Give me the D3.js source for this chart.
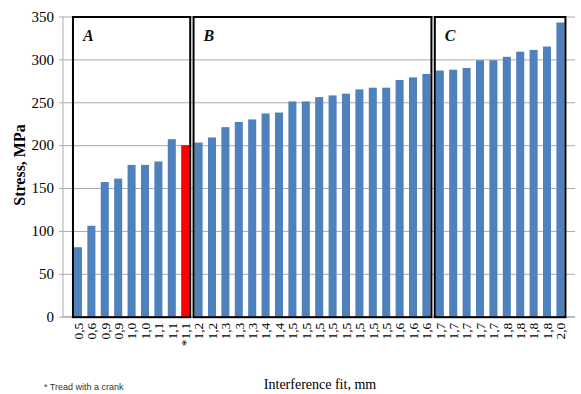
<!DOCTYPE html>
<html>
<head>
<meta charset="utf-8">
<script src="https://cdn.jsdelivr.net/npm/d3@7"></script>
<style>
  body { margin: 0; background: #fff; }
  .chart text { font-family: "Liberation Serif", "Times New Roman", serif; fill: #000; }
  .grid line { stroke: #ababab; }
</style>
</head>
<body>
<div class="chart"></div>
<script>
// interference fit (tick labels), stress values and zone split
var labels = ["0,5","0,6","0,9","0,9","1,0","1,0","1,1","1,1","*1,1",
  "1,2","1,2","1,3","1,3","1,3","1,4","1,4","1,5","1,5","1,5","1,5","1,5","1,5","1,5","1,5","1,6","1,6","1,6",
  "1,7","1,7","1,7","1,7","1,7","1,8","1,8","1,8","1,8","2,0"];
var stress = [81,106,157,161,177,177,181,207,200,
  203,209,221,227,230,237,238,251,251,256,258,260,265,267,267,276,279,283,
  287,288,290,299,299,303,309,311,315,343];
var zoneNames = ["A","B","C"];
var zoneSizes = [9,18,10];
var yTicks = [0,50,100,150,200,250,300,350];

var width = 581, height = 394;
var axisX = 63, axisRight = 575;

var x = d3.scaleBand()
  .domain(d3.range(labels.length))
  .range([68.6, 569.8])
  .padding(0.4);

var y = d3.scaleLinear()
  .domain([0, 350])
  .range([316.7, 16.5]);

var svg = d3.select(".chart").append("svg")
  .attr("width", width)
  .attr("height", height);

// gridlines + y axis
svg.append("g")
  .attr("class", "grid")
  .attr("transform", `translate(${axisX}, 0)`)
  .call(d3.axisLeft(y).tickValues(yTicks).tickSize(-(axisRight - axisX)).tickPadding(9).tickFormat(d3.format("d")))
  .call(g => g.select(".domain").attr("stroke", "#ababab").attr("d", `M0,${y(350)}V${y(0)}`))
  .call(g => g.selectAll(".tick line").attr("x1", -4))
  .call(g => g.selectAll("text").style("font-size", "15px"));

// x axis line
svg.append("line")
  .attr("x1", axisX - 1).attr("x2", axisRight)
  .attr("y1", y(0)).attr("y2", y(0))
  .attr("stroke", "#ababab");

// bars
svg.selectAll(".bar")
  .data(stress)
  .enter().append("rect")
  .attr("class", "bar")
  .attr("x", (d, i) => x(i))
  .attr("y", d => y(d))
  .attr("width", x.bandwidth())
  .attr("height", d => y(0) - y(d))
  .attr("fill", (d, i) => labels[i].startsWith("*") ? "#ff0000" : "#4f81bd");

// zone boxes
var start = 0;
zoneNames.forEach(function(name, k) {
  var first = start, last = start + zoneSizes[k] - 1;
  var x0 = x(first) - 1, x1 = x(last) + x.bandwidth() + 1;
  svg.append("rect")
    .attr("x", x0).attr("y", y(350) + 0.5)
    .attr("width", x1 - x0).attr("height", y(0) - y(350))
    .attr("fill", "none")
    .attr("stroke", "#000")
    .attr("stroke-width", 2);
  svg.append("text")
    .attr("x", x0 + 10).attr("y", 41)
    .style("font-size", "16px")
    .style("font-weight", "bold")
    .style("font-style", "italic")
    .style("fill", "#111")
    .text(name);
  start += zoneSizes[k];
});

// category labels, rotated
svg.append("g")
  .attr("transform", `translate(0, ${y(0)})`)
  .call(d3.axisBottom(x).tickSize(0).tickPadding(0).tickFormat(i => labels[i]))
  .call(g => g.select(".domain").remove())
  .selectAll("text")
  .style("font-size", "13.5px")
  .attr("text-anchor", "end")
  .attr("transform", "rotate(-90)")
  .attr("x", -6)
  .attr("y", 0)
  .attr("dy", "0.35em");

// axis titles
svg.append("text")
  .attr("transform", "translate(25, 165) rotate(-90)")
  .attr("text-anchor", "middle")
  .style("font-size", "16px")
  .style("font-weight", "bold")
  .text("Stress, MPa");

svg.append("text")
  .attr("x", 320).attr("y", 389)
  .attr("text-anchor", "middle")
  .style("font-size", "14px")
  .text("Interference fit, mm");

svg.append("text")
  .attr("x", 44).attr("y", 390)
  .style("font-family", "'Liberation Sans', Arial, sans-serif")
  .style("font-size", "9px")
  .style("fill", "#333")
  .text("* Tread with a crank");
</script>
</body>
</html>
